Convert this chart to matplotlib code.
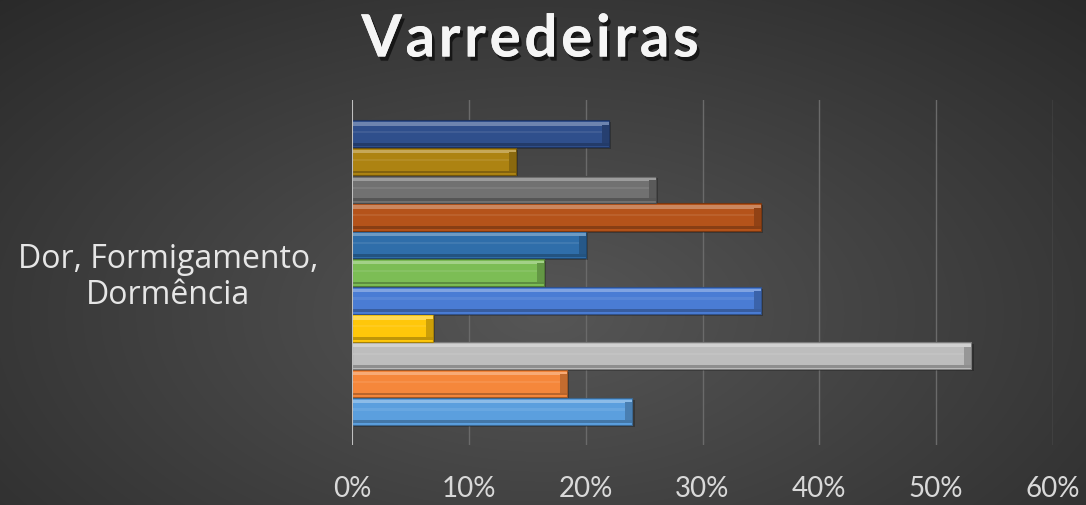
import numpy as np
import matplotlib
matplotlib.use("Agg")
import matplotlib.pyplot as plt
import matplotlib.colors as mcolors
from matplotlib import patheffects as pe

# ---- data (bottom to top) ----
category = "Dor, Formigamento,\nDormência"
values = [0.24, 0.184, 0.53, 0.069, 0.35, 0.164, 0.20, 0.35, 0.26, 0.14, 0.22]
colors = ["#5b9fde", "#f5873b", "#bdbdbd", "#ffc70a", "#4a7cd4", "#7cbd55",
          "#2f6eaa", "#b5531a", "#717171", "#ad8312", "#2f4f8c"]
xticks = [0, 0.1, 0.2, 0.3, 0.4, 0.5, 0.6]
xticklabels = ["0%", "10%", "20%", "30%", "40%", "50%", "60%"]
title = "Varredeiras"

W, H = 1086, 505
fig = plt.figure(figsize=(W / 100, H / 100), dpi=100)

# background radial gradient
bg = fig.add_axes([0, 0, 1, 1])
yy, xx = np.mgrid[0:H, 0:W]
cx, cy = 0.5 * W, 0.62 * H
r = np.sqrt(((xx - cx) / (0.75 * W)) ** 2 + ((yy - cy) / (0.9 * H)) ** 2)
r = np.clip(r, 0, 1)
c0 = np.array([0x56, 0x56, 0x56]) / 255
c1 = np.array([0x28, 0x28, 0x28]) / 255
img = c0[None, None, :] * (1 - r[..., None]) + c1[None, None, :] * r[..., None]
bg.imshow(img, aspect="auto", extent=[0, 1, 0, 1], origin="upper")
bg.axis("off")

left, right = 352 / W, 1053 / W
top, bottom = 1 - 100 / H, 1 - 445 / H
ax = fig.add_axes([left, bottom, right - left, top - bottom])
ax.set_facecolor("none")

n = len(values)
pos = np.arange(n)
m = 0.72
ax.set_ylim(-0.5 - m, n - 0.5 + m)
ax.set_xlim(0, 0.6)

def shade(c, f):
    rgb = np.array(mcolors.to_rgb(c))
    if f > 0:
        return tuple(rgb + (1 - rgb) * f)
    return tuple(rgb * (1 + f))

# gridlines
for t in xticks[1:]:
    ax.axvline(t, color="#6a6a6a", lw=1.0, zorder=0)

# shadows
ax.barh(pos - 0.07, values, height=0.98, left=0.002, color="black", alpha=0.25, zorder=1)
# main bars with bevel look
for p, v, c in zip(pos, values, colors):
    ax.barh(p, v, height=0.98, color=c, edgecolor=shade(c, -0.35), lw=0.8, zorder=2)
    ax.barh(p + 0.36, v, height=0.12, color=shade(c, 0.3), lw=0, zorder=3)
    ax.barh(p + 0.06, v, height=0.08, color=shade(c, 0.08), lw=0, zorder=3)
    ax.barh(p - 0.38, v, height=0.1, color=shade(c, -0.25), lw=0, zorder=3)
    bw = 0.006
    ax.barh(p, bw, left=v - bw, height=0.66, color=shade(c, -0.2), lw=0, zorder=3)

ax.axvline(0, color="#bfbfbf", lw=1.5, zorder=4)

for s in ax.spines.values():
    s.set_visible(False)
ax.set_yticks([])
ax.set_xticks(xticks)
ax.set_xticklabels(xticklabels, color="#d9d9d9", fontsize=20, family="Lato")
ax.tick_params(axis="x", length=0, pad=22)

fig.text(168 / W, 1 - 277 / H, category, ha="center", va="center", color="#e6e6e6",
         fontsize=23, family="Open Sans", linespacing=1.12)

fig.text(530 / W, 1 - 40 / H, "\u200a".join(list(title)),
         ha="center", va="center", color="#f5f5f5", fontsize=42, fontweight="bold",
         family="Lato",
         path_effects=[pe.withSimplePatchShadow(offset=(2, -3), shadow_rgbFace="black", alpha=0.6),
                       pe.Normal()])

fig.savefig("out.png", dpi=100)
